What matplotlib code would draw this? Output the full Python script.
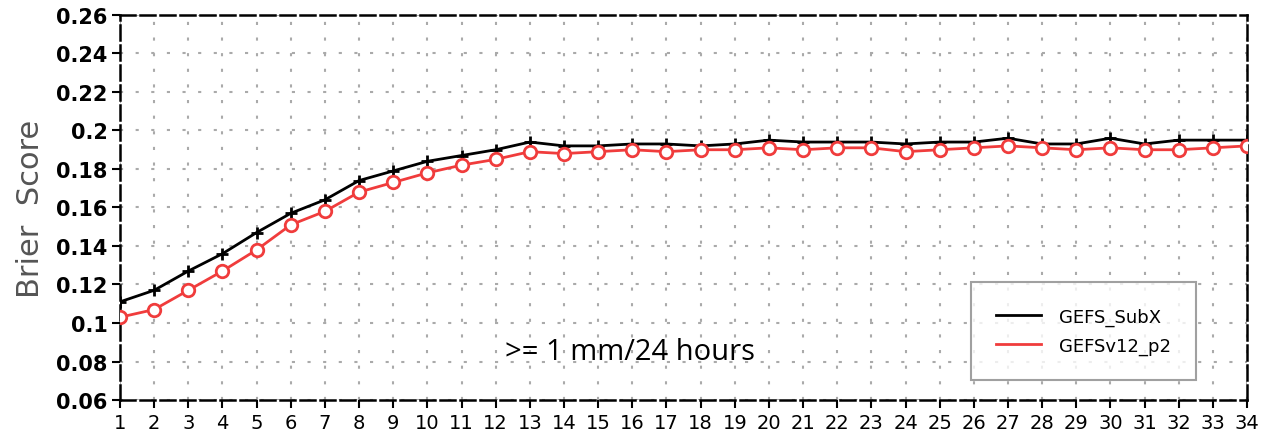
import matplotlib.pyplot as plt
import numpy as np

lead_days = list(range(1, 35))
gefs_subx = [0.111, 0.117, 0.127, 0.136, 0.147, 0.157, 0.164, 0.174, 0.179, 0.184,
             0.187, 0.190, 0.194, 0.192, 0.192, 0.193, 0.193, 0.192, 0.193, 0.195,
             0.194, 0.194, 0.194, 0.193, 0.194, 0.194, 0.196, 0.193, 0.193, 0.196,
             0.193, 0.195, 0.195, 0.195]
gefsv12_p2 = [0.103, 0.107, 0.117, 0.127, 0.138, 0.151, 0.158, 0.168, 0.173, 0.178,
              0.182, 0.185, 0.189, 0.188, 0.189, 0.190, 0.189, 0.190, 0.190, 0.191,
              0.190, 0.191, 0.191, 0.189, 0.190, 0.191, 0.192, 0.191, 0.190, 0.191,
              0.190, 0.190, 0.191, 0.192]
y_ticks = [0.06, 0.08, 0.1, 0.12, 0.14, 0.16, 0.18, 0.2, 0.22, 0.24, 0.26]
y_tick_labels = ["0.06", "0.08", "0.1", "0.12", "0.14", "0.16", "0.18", "0.2", "0.22", "0.24", "0.26"]

fig = plt.figure(figsize=(12.61, 4.31), dpi=100)
ax = fig.add_axes([0.0952, 0.0696, 0.8937, 0.8933])

ax.plot(lead_days, gefs_subx, color="black", lw=2, marker="+", ms=9, mew=2,
        label="GEFS_SubX", zorder=3)
ax.plot(lead_days, gefsv12_p2, color="#f03c3c", lw=2, marker="o", ms=9, mew=2,
        mfc="white", mec="#f03c3c", label="GEFSv12_p2", zorder=4)

ax.set_xlim(1, 34)
ax.set_ylim(0.06, 0.26)
ax.set_xticks(lead_days)
ax.set_yticks(y_ticks)
ax.set_yticklabels(y_tick_labels)
ax.tick_params(axis="both", direction="out", length=6, width=1.5, pad=3)
ax.tick_params(axis="x", labelsize=14)
ax.tick_params(axis="y", labelsize=15)
for lab in ax.get_yticklabels():
    lab.set_fontweight("bold")

ax.grid(True, color="#aaaaaa", linestyle=(0, (1.5, 6)), lw=1.5)
for sp in ax.spines.values():
    sp.set_linestyle((0, (6, 2)))
    sp.set_linewidth(1.8)

ax.set_ylabel("Brier  Score", fontsize=22, color="#555555", labelpad=8)

ax.text(0.4525, 0.127, ">= 1 mm/24 hours", transform=ax.transAxes, fontsize=21,
        ha="center", va="center", family="Open Sans")

leg = ax.legend(loc="lower right", bbox_to_anchor=(0.955, 0.052), borderaxespad=0,
                fontsize=13, frameon=True, fancybox=False, edgecolor="#888888",
                handlelength=2.5, handletextpad=1.0, borderpad=1.4,
                labelspacing=0.6)
for h in leg.legend_handles:
    h.set_marker("")
leg.get_frame().set_linewidth(1.5)

fig.savefig("out.png", dpi=100)
